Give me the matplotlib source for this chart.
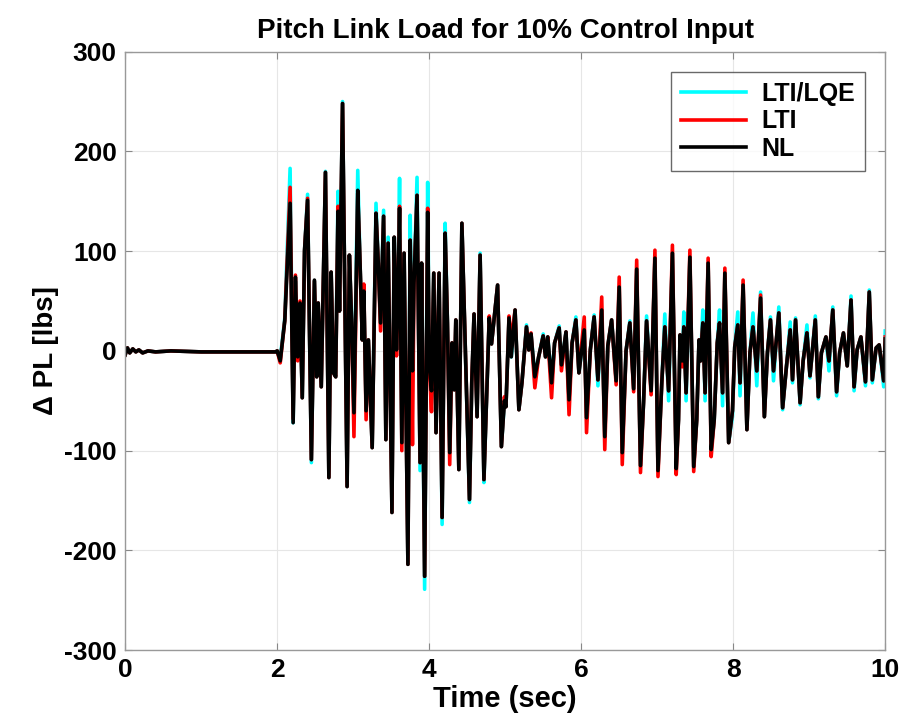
import matplotlib
matplotlib.use("Agg")
import matplotlib.pyplot as plt

# extrema (time in s, pitch link load in lbs)
t = [0.00, 0.03, 0.06, 0.10, 0.14, 0.18, 0.23, 0.30, 0.40, 0.60, 1.00, 1.50, 1.98,
     2.00, 2.04, 2.10, 2.17, 2.21, 2.24, 2.27, 2.30, 2.33, 2.36, 2.40, 2.45, 2.49,
     2.52, 2.54, 2.58, 2.635, 2.68, 2.71, 2.74, 2.77, 2.80, 2.82, 2.86, 2.92, 2.95,
     2.98, 3.01, 3.06, 3.09, 3.12, 3.14, 3.17, 3.20, 3.25, 3.30, 3.33, 3.36, 3.40,
     3.43, 3.46, 3.51, 3.54, 3.57, 3.59, 3.61, 3.64, 3.67, 3.72, 3.75, 3.78, 3.80,
     3.84, 3.88, 3.90, 3.94, 3.98, 4.00, 4.03, 4.06, 4.09, 4.13, 4.17, 4.21, 4.24,
     4.27, 4.30, 4.33, 4.35, 4.39, 4.43, 4.53, 4.56, 4.59, 4.63, 4.67, 4.72, 4.75,
     4.79, 4.82, 4.90, 4.95, 4.99, 5.01, 5.05, 5.08, 5.13, 5.18, 5.22, 5.28, 5.31,
     5.34, 5.39, 5.44, 5.50, 5.53, 5.56, 5.61, 5.65, 5.71, 5.74, 5.80, 5.84, 5.88,
     5.93, 5.97, 6.04, 6.07, 6.12, 6.17, 6.22, 6.27, 6.31, 6.35, 6.40, 6.46, 6.50,
     6.54, 6.59, 6.64, 6.69, 6.73, 6.78, 6.82, 6.86, 6.92, 6.97, 7.01, 7.06, 7.10,
     7.15, 7.20, 7.25, 7.28, 7.30, 7.33, 7.35, 7.38, 7.43, 7.48, 7.52, 7.55, 7.57,
     7.60, 7.63, 7.67, 7.71, 7.75, 7.79, 7.82, 7.86, 7.89, 7.94, 7.99, 8.02, 8.06,
     8.09, 8.13, 8.18, 8.22, 8.26, 8.31, 8.36, 8.41, 8.45, 8.49, 8.53, 8.60, 8.65,
     8.70, 8.75, 8.78, 8.82, 8.88, 8.92, 8.97, 9.01, 9.08, 9.12, 9.16, 9.22, 9.26,
     9.31, 9.36, 9.40, 9.45, 9.50, 9.55, 9.59, 9.63, 9.68, 9.74, 9.79, 9.83, 9.88,
     9.92, 9.98, 10.00]

nl = [-4, 3, -2, 2, -1, 1, -2, 0, -1, 0, -1, -1, -1,
      0, -10, 30, 148, -72, 74, -6, 48, -47, 101, 151, -109, 71,
      -26, 48, -36, 179, -127, 79, -22, -26, 140, 40, 248, -136, 96,
      28, -62, 161, 88, 11, 60, -60, 11, -97, 138, 88, 28, 135,
      -89, 108, -162, 114, 1, 58, 143, -92, 98, -214, 111, -20, 68,
      156, -112, 88, -226, 139, -12, -40, 78, -82, 78, -167, 118, 28,
      -102, 8, -39, 31, -119, 128, -149, -32, 37, -66, 96, -129, -59,
      33, 7, 66, -96, -50, -56, 33, -6, 41, -59, -32, 24, 1,
      17, -26, -6, 15, -6, 14, -32, 8, 23, -14, 19, -49, 8,
      31, -22, 21, -67, 1, 34, -29, 41, -86, 5, 31, -30, 64,
      -102, 0, 28, -38, 82, -115, -52, 30, -40, 93, -120, -32, 24,
      -40, 98, -118, -69, 16, -10, 24, -42, 94, -116, -69, 11, -10,
      28, -42, 88, -99, -69, 8, 28, -42, 78, -92, -60, 4, 26,
      -32, 66, -79, -2, 24, -20, 53, -66, -2, 31, -20, 38, -57,
      -16, 21, -29, 31, -52, -10, 18, -25, 31, -46, -2, 14, -10,
      41, -41, -2, 18, -15, 51, -36, 1, 14, -31, 59, -29, 3,
      6, -30, 12]

lti = [-4, 3, -2, 2, -1, 1, -2, 0, -1, 0, -1, -1, -1,
       0, -12, 31, 164, -68, 76, -10, 50, -47, 100, 153, -109, 70,
       -26, 48, -36, 179, -127, 79, -22, -26, 145, 40, 248, -136, 96,
       28, -86, 158, 88, 11, 67, -69, 11, -97, 138, 88, 20, 135,
       -89, 108, -162, 114, -5, 58, 145, -100, 98, -214, 111, -94, 68,
       156, -112, 88, -226, 143, -12, -61, 78, -82, 78, -167, 118, 28,
       -114, 8, -39, 31, -119, 128, -149, -32, 37, -66, 96, -129, -59,
       35, 7, 66, -96, -46, -56, 35, 10, 41, -59, -32, 24, 1,
       18, -37, -6, 15, -6, 14, -47, 8, 23, -20, 19, -64, 8,
       31, -22, 34, -82, 1, 34, -29, 54, -99, 5, 31, -34, 74,
       -114, 0, 28, -41, 91, -122, -52, 30, -44, 101, -126, -32, 24,
       -40, 106, -124, -69, 16, -16, 24, -42, 101, -121, -69, 11, -10,
       28, -42, 93, -106, -69, 8, 28, -42, 83, -92, -60, 4, 26,
       -32, 71, -79, -2, 24, -20, 56, -66, -2, 31, -20, 38, -57,
       -16, 21, -29, 31, -52, -10, 18, -25, 31, -46, -2, 14, -10,
       41, -41, -2, 18, -15, 51, -36, 1, 14, -31, 59, -29, 3,
       6, -30, 14]

lqe = [-4, 3, -2, 2, -1, 1, -2, 0, -1, 0, -1, -1, -1,
       0, -8, 33, 183, -72, 70, -6, 48, -47, 100, 157, -112, 70,
       -26, 48, -36, 180, -127, 79, -22, -26, 160, 40, 250, -136, 96,
       28, -62, 181, 88, 11, 60, -60, 11, -97, 148, 88, 28, 141,
       -89, 114, -162, 114, 1, 58, 173, -92, 98, -214, 136, -20, 68,
       174, -120, 88, -239, 169, -12, -40, 78, -82, 78, -174, 128, 28,
       -102, 8, -39, 31, -119, 128, -152, -32, 37, -66, 98, -132, -59,
       33, 7, 66, -96, -50, -56, 33, -6, 41, -59, -32, 26, 1,
       17, -26, -6, 17, -6, 14, -32, 8, 25, -14, 19, -49, 8,
       34, -22, 21, -67, 1, 36, -35, 41, -86, 5, 31, -30, 64,
       -102, 0, 30, -38, 82, -115, -52, 35, -40, 93, -120, -32, 37,
       -50, 98, -118, -69, 16, -10, 39, -50, 94, -116, -69, 11, -10,
       41, -50, 88, -99, -69, 8, 41, -55, 78, -92, -66, 4, 39,
       -45, 66, -79, -2, 38, -35, 59, -66, -2, 34, -30, 44, -59,
       -16, 29, -32, 33, -54, -10, 26, -27, 35, -48, -2, 14, -20,
       44, -45, -2, 18, -15, 55, -40, 1, 14, -35, 61, -32, 3,
       6, -36, 20]

series = [("LTI/LQE", lqe, "#00ffff"), ("LTI", lti, "#ff0000"), ("NL", nl, "#000000")]

plt.rcParams["font.family"] = ["Liberation Sans", "DejaVu Sans"]
plt.rcParams["font.weight"] = "bold"
plt.rcParams["axes.unicode_minus"] = False

fig = plt.figure(figsize=(9.07, 7.28), dpi=100)
ax = fig.add_axes([0.138, 0.107, 0.838, 0.822])

for name, vals, color in series:
    ax.plot(t, vals, color=color, lw=2.6, label=name)

ax.set_xlim(0, 10)
ax.set_ylim(-300, 300)
ax.set_xticks([0, 2, 4, 6, 8, 10])
ax.set_yticks([-300, -200, -100, 0, 100, 200, 300])
ax.grid(True, color="#e6e6e6", lw=0.8)
ax.set_axisbelow(True)
ax.tick_params(direction="in", labelsize=19, length=5, color="#888888",
               top=True, right=True, pad=6)
for lab in ax.get_xticklabels() + ax.get_yticklabels():
    lab.set_fontweight("bold")
for sp in ax.spines.values():
    sp.set_color("#999999")
    sp.set_linewidth(1.0)

ax.set_title("Pitch Link Load for 10% Control Input", fontsize=20,
             fontweight="bold", pad=10)
ax.set_xlabel("Time (sec)", fontsize=21, fontweight="bold", labelpad=2)
ax.set_ylabel("Δ PL [lbs]", fontsize=20, fontweight="bold", labelpad=4)

leg = ax.legend(loc="upper right", fontsize=18, frameon=True, fancybox=False,
                handlelength=2.6, borderaxespad=0.8, labelspacing=0.15,
                handletextpad=0.6)
leg.get_frame().set_edgecolor("#444444")
leg.get_frame().set_linewidth(1.0)
for txt in leg.get_texts():
    txt.set_fontweight("bold")

fig.savefig("out.png", dpi=100)
